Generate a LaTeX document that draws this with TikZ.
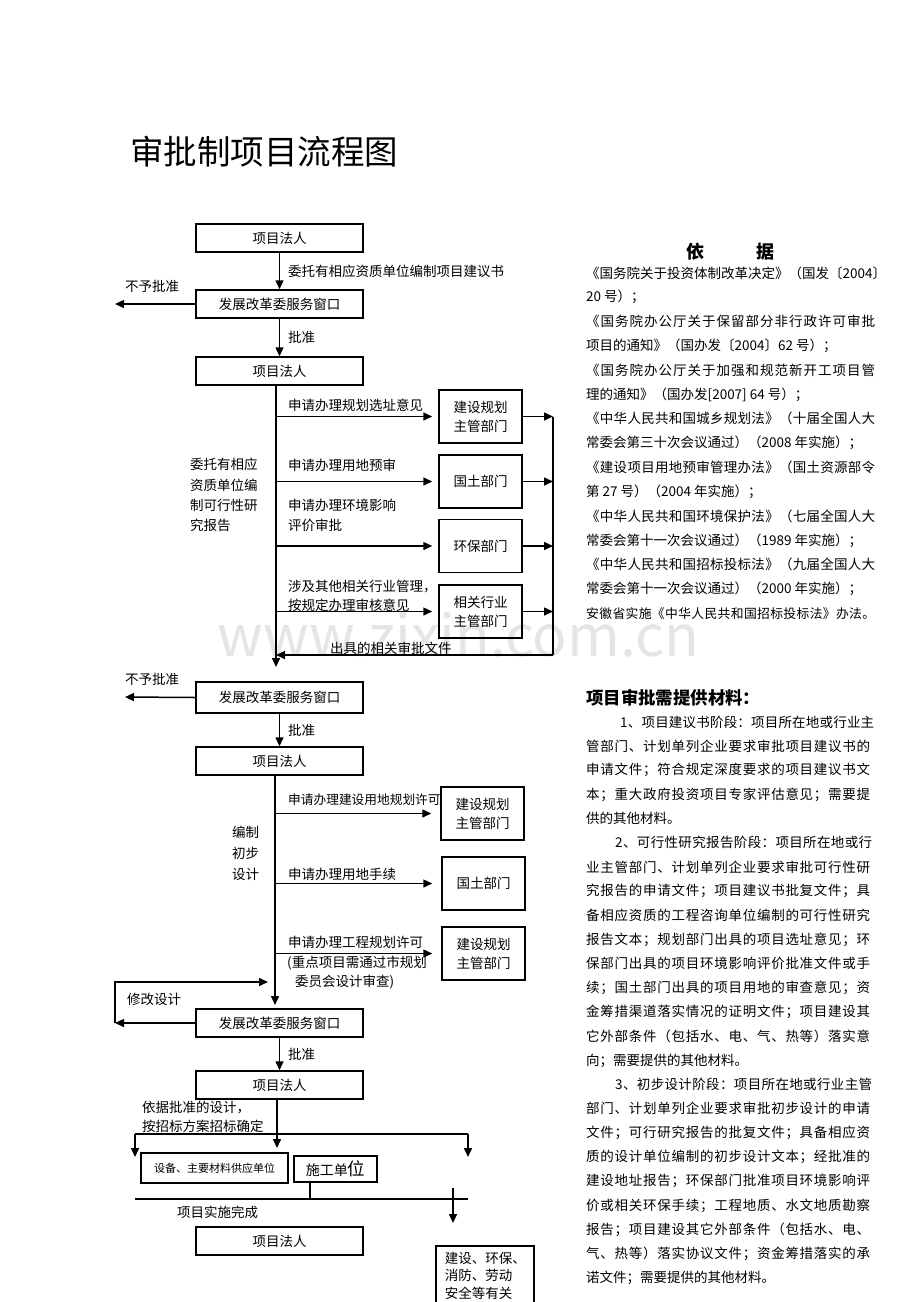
\documentclass[tikz,border=0pt]{standalone}
\usepackage{fontspec}
\setmainfont{Noto Sans CJK SC}
\usetikzlibrary{arrows.meta}
\newcommand\myfs[1]{\fontsize{#1}{#1}\selectfont}
\makeatletter
\def\spreadit#1{\spr@a#1\relax}
\def\spr@a#1{#1\spr@b}
\def\spr@b#1{\ifx\relax#1\else\hskip0pt plus 1fil\relax#1\expandafter\spr@b\fi}
\makeatother
\newcommand\jw[2]{\makebox[#1pt][s]{\spreadit{#2}}}
\begin{document}
\begin{tikzpicture}[x=1pt,y=-1pt,
  box/.style={draw, line width=1.5pt, minimum width=167pt, minimum height=28pt, inner sep=0pt, font=\myfs{13.5}},
  dept/.style={draw, line width=1.5pt, minimum width=83pt, minimum height=53pt, inner sep=0pt, align=center, font=\fontsize{13.5}{19}\selectfont},
  lab/.style={inner sep=0pt, anchor=west, font=\myfs{13.5}},
  rt/.style={inner sep=0pt, anchor=west, font=\myfs{13.5}},
  arr/.style={line width=1.5pt, -{Triangle[length=9pt,width=8pt]}},
  ln/.style={line width=1.5pt}]
\useasboundingbox[fill=white] (0,0) rectangle (920,1302);
% watermark
\node[text=black!10, font=\myfs{57}, inner sep=0pt] (wm) at (458.5,635) {www.zixin.com.cn};
% title
\node[inner sep=0pt, anchor=west, font=\myfs{33.5}] (title) at (130,152) {审批制项目流程图};

% ---------- section 1
\node[box] (p1) at (279.5,238) {项目法人};
\node[box] (g1) at (279.5,304) {发展改革委服务窗口};
\node[box] (p2) at (279.5,371) {项目法人};
\draw[arr] (p1) -- (g1);
\draw[arr] (g1) -- (p2);
\coordinate (n1) at (115,304);
\draw[arr] (g1.west) -- (n1);
\node[lab] (t1) at (288,271) {委托有相应资质单位编制项目建议书};
\node[lab] (t2) at (125,286) {不予批准};
\node[lab] (t3) at (288,337) {批准};

\coordinate (tA) at (276,667);
\draw[arr] (p2.south -| tA) -- (tA);
\node[dept] (d1) at (480.5,416.5) {建设规划\\主管部门};
\node[dept] (d2) at (480.5,481.5) {国土部门};
\node[dept] (d3) at (480.5,546) {环保部门};
\node[dept] (d4) at (480.5,611.5) {相关行业\\主管部门};
\foreach \d in {d1,d2,d3,d4}{\draw[arr, shorten >=6pt] (\d.west -| tA) -- (\d.west);}
\coordinate (rc) at (553,655);
\foreach \d in {d1,d2,d3,d4}{\draw[arr] (\d.east) -- (\d.east -| rc);}
\draw[ln] (d1.east -| rc) -- (rc);
\draw[arr] (rc) -- (rc -| tA);
\node[lab] (t4) at (288,405) {申请办理规划选址意见};
\node[lab] (t5) at (288,465) {申请办理用地预审};
\node[lab] (t6) at (288,505) {申请办理环境影响};
\node[lab] (t7) at (288,525) {评价审批};
\node[lab] (t8) at (288,587) {涉及其他相关行业管理，};
\node[lab] (t9) at (288,605) {按规定办理审核意见};
\node[lab] (t10) at (190,464) {委托有相应};
\node[lab] (t11) at (190,485) {资质单位编};
\node[lab] (t12) at (190,505) {制可行性研};
\node[lab] (t13) at (190,525) {究报告};
\node[lab] (t14) at (330,648) {出具的相关审批文件};

% ---------- section 2
\node[box, minimum height=31pt] (g2) at (279.5,697.5) {发展改革委服务窗口};
\coordinate (n2) at (125,697);
\draw[arr] (g2.west) -- (n2);
\node[lab] (t15) at (125,679) {不予批准};
\node[box] (p3) at (279.5,761) {项目法人};
\draw[arr] (g2) -- (p3);
\node[lab] (t16) at (288,730) {批准};
\coordinate (tB) at (275,1005);
\draw[arr] (p3.south -| tB) -- (tB);
\node[dept] (e1) at (482.5,813.5) {建设规划\\主管部门};
\node[dept] (e2) at (483.5,883.5) {国土部门};
\node[dept] (e3) at (483.5,953.5) {建设规划\\主管部门};
\foreach \d in {e1,e2,e3}{\draw[arr, shorten >=9pt] (\d.west -| tB) -- (\d.west);}
\node[lab, font=\myfs{12.7}] (t17) at (288,800) {申请办理建设用地规划许可};
\node[lab] (t18) at (232,832) {编制};
\node[lab] (t19) at (232,853) {初步};
\node[lab] (t20) at (232,874) {设计};
\node[lab] (t21) at (288,874) {申请办理用地手续};
\node[lab] (t22) at (288,942) {申请办理工程规划许可};
\node[lab] (t23) at (287,963) {(重点项目需通过市规划};
\node[lab] (t24) at (295,982) {委员会设计审查)};

\node[box] (g3) at (279.5,1023) {发展改革委服务窗口};
\coordinate (m0) at (115,1023);
\coordinate (m1) at (115,982);
\coordinate (m2) at (268,982);
\draw[arr] (g3.west) -- (m0);
\draw[arr] (m0) -- (m1) -- (m2);
\node[lab] (t25) at (127,999) {修改设计};

% ---------- section 3
\node[box] (p4) at (279.5,1085) {项目法人};
\draw[arr] (g3) -- (p4);
\node[lab] (t26) at (288,1054) {批准};
\coordinate (bL) at (135,1134);
\coordinate (bR) at (468,1134);
\coordinate (bM) at (277,1148);
\coordinate (bL2) at (135,1157);
\coordinate (bR2) at (468,1157);
\draw[arr] (p4.south -| bM) -- (bM);
\draw[ln] (bL) -- (bR);
\draw[arr] (bL) -- (bL2);
\draw[arr] (bR) -- (bR2);
\node[lab] (t27) at (142,1108) {依据批准的设计，};
\node[lab] (t28) at (142,1126) {按招标方案招标确定};
\node[draw, line width=1.5pt, minimum width=147pt, minimum height=30pt, inner sep=0pt, font=\myfs{11}] (s1) at (214.5,1168) {设备、主要材料供应单位};
\node[draw, line width=1.5pt, minimum width=83pt, minimum height=26pt, inner sep=0pt, font=\myfs{14}] (s2) at (335.5,1169) {施工单{\myfs{17.5}位}};
\coordinate (cL) at (135,1199);
\coordinate (cR) at (468,1199);
\draw[ln] (cL) -- (cR);
\coordinate (tk) at (310,1199);
\draw[ln] (s2.south -| tk) -- (tk);
\coordinate (v1) at (453,1188);
\coordinate (v2) at (453,1223);
\draw[arr] (v1) -- (v2);
\node[lab] (t29) at (177,1212) {项目实施完成};
\node[box] (p5) at (279.5,1241) {项目法人};
\node[draw, line width=1.5pt, anchor=north west, inner xsep=9pt, inner ysep=6pt, text width=80pt, align=left, font=\fontsize{13.5}{17.5}\selectfont] (d9) at (435,1245) {建设、环保、\\消防、劳动\\安全等有关\\部门};

% ---------- right column: 依据
\node[inner sep=0pt, font=\bfseries\myfs{18}] (h1) at (730.5,252) {依\hspace{53pt}据};
\foreach \t [count=\i] in {
  {\jw{289}{《国务院关于投资体制改革决定》（国发〔2004〕}},
  {20 号）；},
  {\jw{289}{《国务院办公厅关于保留部分非行政许可审批}},
  {项目的通知》（国办发〔2004〕62 号）；},
  {\jw{289}{《国务院办公厅关于加强和规范新开工项目管}},
  {理的通知》（国办发[2007] 64 号）；},
  {\jw{289}{《中华人民共和国城乡规划法》（十届全国人大}},
  {常委会第三十次会议通过）（2008 年实施）；},
  {\jw{289}{《建设项目用地预审管理办法》（国土资源部令}},
  {第 27 号）（2004 年实施）；},
  {\jw{289}{《中华人民共和国环境保护法》（七届全国人大}},
  {常委会第十一次会议通过）（1989 年实施）；},
  {\jw{289}{《中华人民共和国招标投标法》（九届全国人大}},
  {常委会第十一次会议通过）（2000 年实施）；},
  {{\myfs{12.8}\jw{289}{安徽省实施《中华人民共和国招标投标法》办法。}}}
}{\node[rt] (r\i) at (586,{273+(\i-1)*24.3}) {\t};}

% ---------- right column: materials
\node[inner sep=0pt, anchor=west, font=\bfseries\myfs{17.4}] (h2) at (586,698) {项目审批需提供材料：};
\node[rt] (q1) at (620,722) {\jw{254}{1、项目建议书阶段：项目所在地或行业主}};
\node[rt] (q2) at (586,746.17) {\jw{284}{管部门、计划单列企业要求审批项目建议书的}};
\node[rt] (q3) at (586,770.34) {\jw{284}{申请文件；符合规定深度要求的项目建议书文}};
\node[rt] (q4) at (586,794.51) {\jw{284}{本；重大政府投资项目专家评估意见；需要提}};
\node[rt] (q5) at (586,818.68) {供的其他材料。};
\node[rt] (q6) at (615,842.85) {\jw{257}{2、可行性研究报告阶段：项目所在地或行}};
\node[rt] (q7) at (586,867.02) {\jw{284}{业主管部门、计划单列企业要求审批可行性研}};
\node[rt] (q8) at (586,891.19) {\jw{284}{究报告的申请文件；项目建议书批复文件；具}};
\node[rt] (q9) at (586,915.36) {\jw{284}{备相应资质的工程咨询单位编制的可行性研究}};
\node[rt] (q10) at (586,939.53) {\jw{284}{报告文本；规划部门出具的项目选址意见；环}};
\node[rt] (q11) at (586,963.70) {\jw{284}{保部门出具的项目环境影响评价批准文件或手}};
\node[rt] (q12) at (586,987.87) {\jw{284}{续；国土部门出具的项目用地的审查意见；资}};
\node[rt] (q13) at (586,1012.04) {\jw{284}{金筹措渠道落实情况的证明文件；项目建设其}};
\node[rt] (q14) at (586,1036.21) {\jw{284}{它外部条件（包括水、电、气、热等）落实意}};
\node[rt] (q15) at (586,1060.38) {向；需要提供的其他材料。};
\node[rt] (q16) at (615,1084.55) {\jw{257}{3、初步设计阶段：项目所在地或行业主管}};
\node[rt] (q17) at (586,1108.72) {\jw{284}{部门、计划单列企业要求审批初步设计的申请}};
\node[rt] (q18) at (586,1132.89) {\jw{284}{文件；可行研究报告的批复文件；具备相应资}};
\node[rt] (q19) at (586,1157.06) {\jw{284}{质的设计单位编制的初步设计文本；经批准的}};
\node[rt] (q20) at (586,1181.23) {\jw{284}{建设地址报告；环保部门批准项目环境影响评}};
\node[rt] (q21) at (586,1205.40) {\jw{284}{价或相关环保手续；工程地质、水文地质勘察}};
\node[rt] (q22) at (586,1229.57) {\jw{284}{报告；项目建设其它外部条件（包括水、电、}};
\node[rt] (q23) at (586,1253.74) {\jw{284}{气、热等）落实协议文件；资金筹措落实的承}};
\node[rt] (q24) at (586,1277.91) {诺文件；需要提供的其他材料。};
\end{tikzpicture}
\end{document}
